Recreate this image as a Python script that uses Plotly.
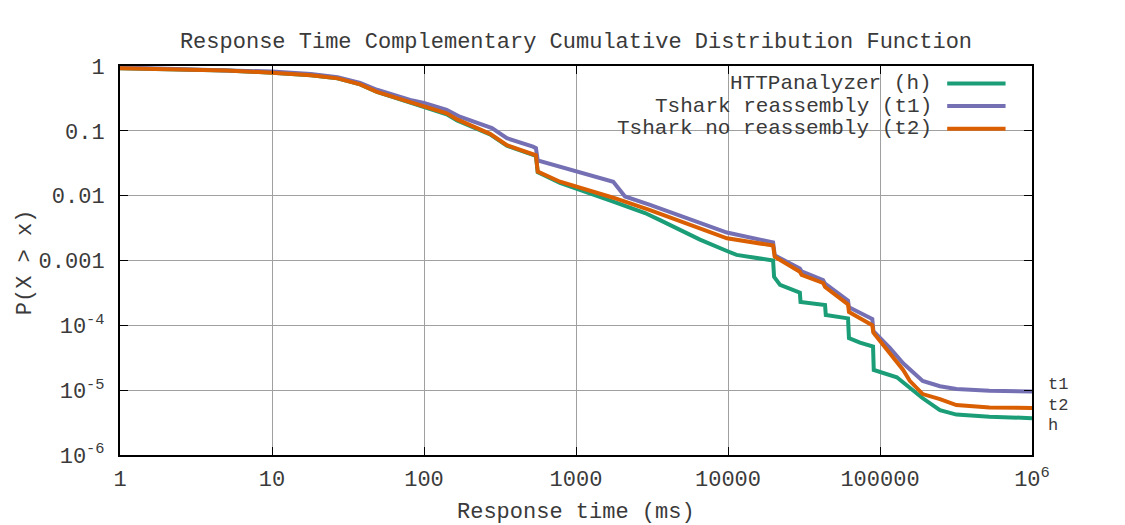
import plotly.graph_objects as go

# ---- data ----
h_x = [1, 2, 5, 10, 18, 27, 38, 49, 81, 100, 141, 165, 272, 351, 521, 545, 560, 785, 1758, 2845,
       3570, 6540, 9840, 11400, 19800, 20100, 22000, 29700, 30000, 43500, 44000, 61600, 62500,
       73800, 90000, 91000, 129000, 157000, 191000, 248000, 318000, 525000, 1000000]
h_p = [0.92, 0.89, 0.85, 0.79, 0.72, 0.645, 0.52, 0.40, 0.275, 0.23, 0.18, 0.145, 0.088, 0.059,
       0.043, 0.041, 0.023, 0.0157, 0.0081, 0.0054, 0.0042, 0.0021, 0.0014, 0.00122, 0.001,
       0.00056, 0.00042, 0.00032, 0.00023, 0.000205, 0.000144, 0.000128, 0.0000635, 0.000054,
       0.000047, 0.0000205, 0.0000158, 0.0000107, 0.0000075, 0.0000049, 0.0000042, 0.0000039,
       0.0000037]

t1_x = [1, 2, 5, 10, 18, 27, 38, 49, 81, 100, 141, 172, 280, 351, 521, 545, 560, 785, 1000, 1438,
        1758, 2100, 3070, 9840, 19800, 20300, 29700, 30500, 42200, 43500, 61600, 62500, 89000,
        90500, 116000, 142000, 191000, 248000, 318000, 525000, 1000000]
t1_p = [0.95, 0.91, 0.87, 0.82, 0.75, 0.67, 0.55, 0.43, 0.30, 0.27, 0.21, 0.165, 0.11, 0.077,
        0.057, 0.054, 0.035, 0.028, 0.023, 0.0187, 0.0164, 0.0097, 0.0072, 0.0027, 0.0019, 0.0012,
        0.00075, 0.00068, 0.0005, 0.00044, 0.00024, 0.00019, 0.000125, 0.000081, 0.000045,
        0.000026, 0.0000139, 0.0000115, 0.0000104, 0.0000098, 0.0000095]

t2_x = [1, 2, 5, 10, 18, 27, 38, 49, 81, 100, 141, 165, 272, 351, 521, 545, 560, 785, 1758, 3070,
        9840, 19800, 20300, 29700, 30500, 42200, 43500, 61600, 62500, 89000, 90500, 116000,
        142000, 157000, 191000, 248000, 318000, 525000, 1000000]
t2_p = [0.92, 0.89, 0.85, 0.79, 0.72, 0.645, 0.52, 0.40, 0.28, 0.236, 0.186, 0.15, 0.09, 0.06,
        0.044, 0.042, 0.0235, 0.0164, 0.0093, 0.006, 0.0022, 0.0017, 0.00114, 0.00067, 0.0006,
        0.00045, 0.00039, 0.00021, 0.00016, 0.0001, 0.000077, 0.000036, 0.0000205, 0.0000139,
        0.0000087, 0.0000073, 0.0000059, 0.0000054, 0.0000053]

series_names = ["HTTPanalyzer (h)", "Tshark reassembly (t1)", "Tshark no reassembly (t2)"]
series_tags = ["h", "t1", "t2"]
series_colors = ["#1b9e77", "#7570b3", "#d95f02"]

x_tickvals = [1, 10, 100, 1000, 10000, 100000, 1000000]
x_ticktext = ["1", "10", "100", "1000", "10000", "100000", "10<sup>6</sup>"]
y_tickvals = [1, 0.1, 0.01, 0.001, 1e-4, 1e-5, 1e-6]
y_ticktext = ["1", "0.1", "0.01", "0.001", "10<sup>-4</sup>", "10<sup>-5</sup>", "10<sup>-6</sup>"]

FONT = "Liberation Mono, Courier New, monospace"
TXT = "#3a3a3a"
FS = 22

fig = go.Figure()
for xs, ps, name, col in zip([h_x, t1_x, t2_x], [h_p, t1_p, t2_p], series_names, series_colors):
    fig.add_trace(go.Scatter(x=xs, y=ps, mode="lines", name=name,
                             line=dict(color=col, width=4), showlegend=False))

axis_common = dict(type="log", showgrid=True, gridcolor="#a0a0a0", gridwidth=1,
                   showline=True, linecolor="black", linewidth=2, mirror="ticks",
                   ticks="inside", ticklen=8, tickcolor="black", tickwidth=1,
                   tickfont=dict(family=FONT, size=FS, color=TXT), zeroline=False)

fig.update_xaxes(range=[0, 6], tickvals=x_tickvals, ticktext=x_ticktext,
                 ticklabelstandoff=3, **axis_common)
fig.update_yaxes(range=[-6, 0], tickvals=y_tickvals, ticktext=y_ticktext,
                 ticklabelstandoff=9, **axis_common)

# legend (gnuplot style: right-aligned text, sample to the right)
shapes = [dict(type="rect", xref="paper", yref="paper", x0=0.53, x1=0.985, y0=0.815, y1=0.99,
               fillcolor="white", line=dict(width=0), layer="between")]
annotations = []
leg_y = [0.955, 0.897, 0.839]
for name, col, ly in zip(series_names, series_colors, leg_y):
    annotations.append(dict(xref="paper", yref="paper", x=0.892, y=ly, text=name,
                            showarrow=False, xanchor="right", yanchor="middle",
                            font=dict(family=FONT, size=21, color=TXT)))
    shapes.append(dict(type="line", xref="paper", yref="paper", x0=0.907, x1=0.971,
                       y0=ly, y1=ly, line=dict(color=col, width=4), layer="above"))

# end labels at right side
tag_y = [0.077, 0.18, 0.1285]
for tag, ty in zip(series_tags, tag_y):
    annotations.append(dict(xref="paper", yref="paper", x=1.015, y=ty, text=tag,
                            showarrow=False, xanchor="left", yanchor="middle",
                            font=dict(family=FONT, size=17, color=TXT)))

annotations.append(dict(xref="paper", yref="paper", x=0.5, y=-0.147,
                        text="Response time (ms)", showarrow=False,
                        xanchor="center", yanchor="middle",
                        font=dict(family=FONT, size=FS, color=TXT)))
annotations.append(dict(xref="paper", yref="paper", x=-0.104, y=0.496,
                        text="P(X > x)", showarrow=False, textangle=-90,
                        xanchor="center", yanchor="middle",
                        font=dict(family=FONT, size=FS, color=TXT)))

fig.update_layout(
    width=1125, height=525,
    margin=dict(l=120, r=93, t=66, b=70),
    paper_bgcolor="white", plot_bgcolor="white",
    title=dict(text="Response Time Complementary Cumulative Distribution Function",
               x=0.512, xanchor="center", y=0.924, yanchor="middle",
               font=dict(family=FONT, size=FS, color=TXT)),
    shapes=shapes, annotations=annotations, showlegend=False,
)

fig.write_html("out.html")
